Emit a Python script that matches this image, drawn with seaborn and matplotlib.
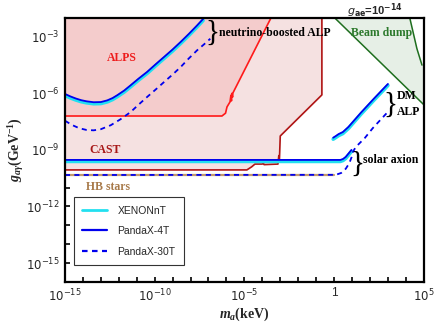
import numpy as np
import pandas as pd
import matplotlib
matplotlib.use("Agg")
import matplotlib.pyplot as plt
import seaborn as sns
from matplotlib.lines import Line2D

# all values are log10
# neutrino-boosted ALP reach
nb_mass = [-15, -14.7, -14.4, -14.1, -13.8, -13.4, -13.0, -12.64, -12.35, -12.09, -11.7,
           -11.34, -10.9, -10.42, -9.95, -9.48, -9.0, -8.55, -8.1, -7.63, -7.3]
nb_4t = [-6.03, -6.16, -6.27, -6.36, -6.42, -6.47, -6.46, -6.37, -6.25, -6.10, -5.85,
         -5.57, -5.22, -4.86, -4.46, -4.07, -3.67, -3.27, -2.85, -2.39, -2.05]
nb_30t_mass = [-15, -14.6, -14.2, -13.8, -13.4, -13.0, -12.45, -11.9, -11.34, -10.9,
               -10.42, -9.95, -9.48, -9.0, -8.55, -8.1, -7.63, -7.25, -6.9]
nb_30t = [-7.45, -7.68, -7.85, -7.94, -7.96, -7.9, -7.69, -7.37, -6.99, -6.6,
          -6.19, -5.8, -5.40, -5.0, -4.6, -4.15, -3.71, -3.4, -3.1]

# solar axion reach
sol_mass = [-15, 0.35, 0.5, 0.65, 0.78, 0.9, 0.97]
sol_4t = [-9.53, -9.53, -9.48, -9.37, -9.22, -9.08, -9.0]

# DM ALP reach
dm_mass = [-0.05, 0.1, 0.25, 0.49, 0.8, 1.5, 2.2, 3.0]
dm_4t = [-8.35, -8.26, -8.16, -8.05, -7.78, -7.02, -6.3, -5.5]

# PandaX-30T solar + DM (one dashed curve)
p30_mass = [-15, 0.1, 0.4, 0.65, 0.85, 0.97, 1.05, 1.2, 1.32, 1.71, 2.16, 2.94]
p30_g = [-10.33, -10.32, -10.22, -10.0, -9.7, -9.4, -9.1, -8.86, -8.74, -8.37, -7.84, -7.04]

xe_shift = -0.08  # XENONnT sits just under PandaX-4T

# existing limits
alps_mass = [-15, -6.25, -6.05, -5.97, -5.8, -5.75, -5.72, -5.7, -5.66, -5.64, -3.52]
alps_g = [-7.2, -7.2, -7.05, -6.72, -6.45, -6.1, -6.4, -6.0, -6.2, -5.98, -2.0]
cast_mass = [-15, -4.86, -4.6, -4.41, -4.0, -3.95, -3.9, -3.13, -3.08, -3.05, -3.02, -3.0, -0.68, -0.68]
cast_g = [-10.06, -10.06, -9.9, -9.75, -9.75, -9.68, -9.78, -9.75, -9.3, -9.6, -8.8, -8.26, -6.08, -2.0]
hb_mass = [-15, 0.0]
hb_g = [-10.33, -10.33]
beam_mass = [0.04, 5.0, 5.0, 4.9, 4.64, 4.61, 4.22]
beam_g = [-2.0, -6.6, -4.55, -4.5, -3.7, -3.6, -2.0]

sns.set_style("ticks")
plt.rcParams['font.family'] = ['Liberation Sans', 'DejaVu Sans']
plt.rcParams['mathtext.rm'] = 'Liberation Serif:bold'
plt.rcParams['mathtext.it'] = 'Liberation Serif:bold:italic'
plt.rcParams['mathtext.bf'] = 'Liberation Serif:bold'

fig = plt.figure(figsize=(4.36, 3.27), dpi=100)
ax = fig.add_axes([0.149, 0.138, 0.823, 0.807])
ax.set_xscale('log')
ax.set_yscale('log')

p = lambda a: 10 ** np.asarray(a, dtype=float)
top = 1e-2

# shaded regions
ax.fill_between(p(cast_mass), p(cast_g), top, color='#f5e1e1', lw=0, zorder=1)
ax.fill_between(p(alps_mass), p(alps_g), top, color='#f4cccc', lw=0, zorder=1.1)
ax.fill(p(beam_mass), p(beam_g), color='#e6efe6', lw=0, zorder=1)

def line(x, y, **kw):
    sns.lineplot(x=p(x), y=p(y), sort=False, estimator=None, ax=ax, **kw)

line(cast_mass, cast_g, color='#b01515', lw=1.2, zorder=2)
line(alps_mass, alps_g, color='#ff1a1a', lw=1.2, zorder=2)
line(hb_mass, hb_g, color='#c49a6c', lw=1.6, zorder=2)
line(beam_mass[:2], beam_g[:2], color='#1e6e1e', lw=1.1, zorder=2)
line(beam_mass[3:], beam_g[3:], color='#1e6e1e', lw=1.1, zorder=2)

cyan, blue = '#22e0f0', '#0000ee'
for xs, ys in [(nb_mass, nb_4t), (sol_mass, sol_4t), (dm_mass, dm_4t)]:
    line(xs, np.array(ys) + xe_shift, color=cyan, lw=2.6, zorder=3)
    line(xs, ys, color=blue, lw=1.3, zorder=4)
for xs, ys in [(nb_30t_mass, nb_30t), (p30_mass, p30_g)]:
    line(xs, ys, color=blue, lw=1.3, ls=(0, (2.8, 2.4)), zorder=4)

ax.set_xlim(1e-15, 1e5)
ax.set_ylim(1e-16, 1e-2)
ax.set_xticks(p(np.arange(-15, 6)), minor=False)
ax.set_xticks([], minor=True)
ax.set_yticks(p(np.arange(-16, -1)), minor=False)
ax.set_yticks([], minor=True)
xlab = {-15: r'$10^{-15}$', -10: r'$10^{-10}$', -5: r'$10^{-5}$', 0: '1', 5: r'$10^{5}$'}
ylab = {-3: r'$10^{-3}$', -6: r'$10^{-6}$', -9: r'$10^{-9}$', -12: r'$10^{-12}$', -15: r'$10^{-15}$'}
ax.set_xticklabels([xlab.get(k, '') for k in range(-15, 6)])
ax.set_yticklabels([ylab.get(k, '') for k in range(-16, -1)])
ax.tick_params(direction='in', length=3.5, width=1.2, labelsize=8.5, color='black',
               top=False, right=False, pad=4)
for s in ax.spines.values():
    s.set_linewidth(1.6)
    s.set_color('black')
    s.set_visible(True)
    s.set_zorder(10)

ax.set_xlabel(r'$m_a$(keV)', fontfamily='Liberation Serif', fontweight='bold',
              math_fontfamily='custom', fontsize=10, labelpad=1)
ax.set_ylabel(r'$g_{a\gamma}$(GeV$^{-1}$)', fontfamily='Liberation Serif', fontweight='bold',
              math_fontfamily='custom', fontsize=10, labelpad=0)
fig.text(0.86, 0.968, r'$g_{\mathbf{ae}}$=10$^{\mathbf{-14}}$', ha='center', va='center',
         fontsize=8, fontweight='bold', fontfamily='Liberation Sans', math_fontfamily='dejavusans')

serif = dict(fontfamily='Liberation Serif', fontweight='bold', fontsize=8.5, zorder=5)
ax.text(p(-11.82), p(-4.12), 'ALPS', color='#ee1c1c', ha='center', va='center', **serif)
ax.text(p(-12.77), p(-9.0), 'CAST', color='#a81818', ha='center', va='center', **serif)
ax.text(p(-12.6), p(-10.95), 'HB stars', color='#a87a4a', ha='center', va='center', **serif)
ax.text(p(2.66), p(-2.8), 'Beam dump', color='#2d7a2d', ha='center', va='center', **serif)
ax.text(p(-6.42), p(-2.78), 'neutrino-boosted ALP', color='black', ha='left', va='center', **serif)
ax.text(p(3.5), p(-6.15), 'DM', color='black', ha='left', va='center', **serif)
ax.text(p(3.5), p(-7.0), 'ALP', color='black', ha='left', va='center', **serif)
ax.text(p(1.6), p(-9.55), 'solar axion', color='black', ha='left', va='center', **serif)
brace = dict(fontfamily='Liberation Serif', fontsize=21, color='black', ha='center', va='center', zorder=5)
ax.text(p(-6.78), p(-2.78), '}', **brace)
ax.text(p(3.12), p(-6.6), '}', **brace)
ax.text(p(1.3), p(-9.75), '}', **brace)

handles = [Line2D([], [], color=cyan, lw=2),
           Line2D([], [], color=blue, lw=1.6),
           Line2D([], [], color=blue, lw=1.6, ls=(0, (2.5, 2.0)))]
leg = ax.legend(handles, ['XENONnT', 'PandaX-4T', 'PandaX-30T'], loc='upper left',
                bbox_to_anchor=(0.01, 0.34), fontsize=7.5, fancybox=False,
                framealpha=1, edgecolor='#333333', handlelength=2.4,
                labelspacing=1.0, borderpad=0.8, handletextpad=1.0)
leg.get_frame().set_linewidth(0.8)
leg.set_zorder(6)

fig.savefig('out.png', dpi=100)
